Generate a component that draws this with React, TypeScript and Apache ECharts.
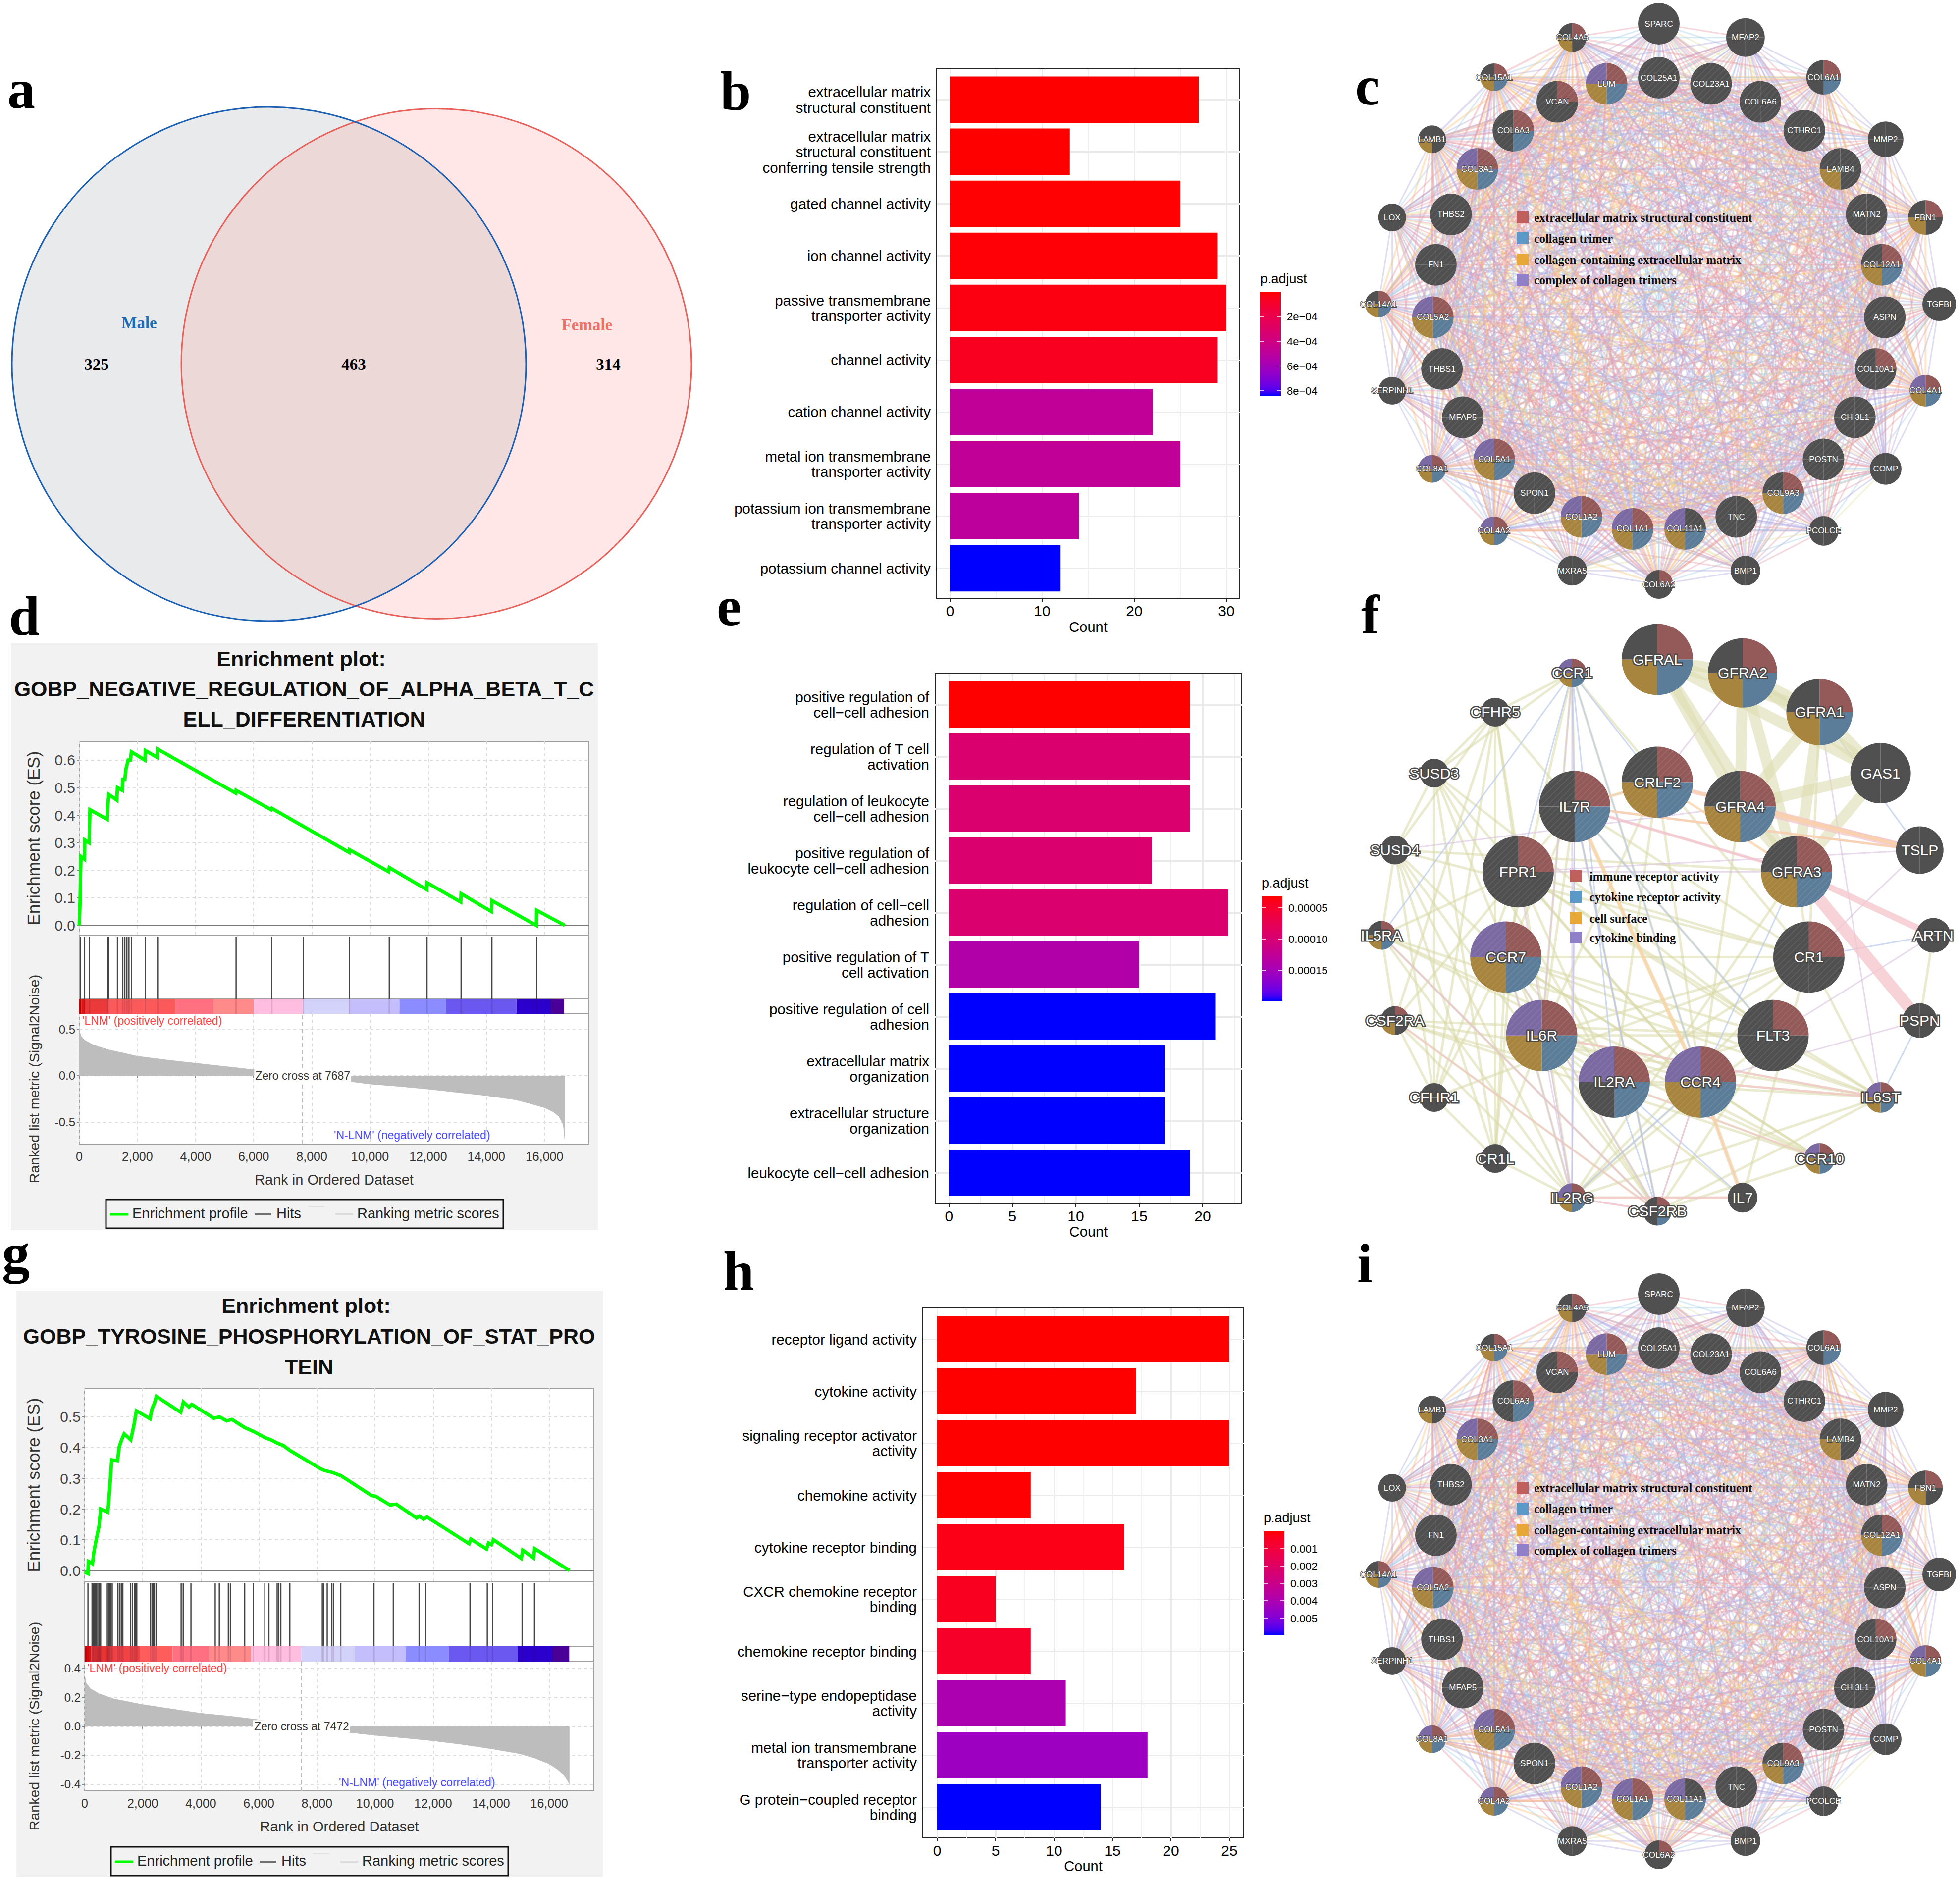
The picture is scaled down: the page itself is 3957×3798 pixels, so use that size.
import React, { useEffect, useRef } from "react";
import * as echarts from "echarts";

const SANS = '"Liberation Sans"';
const SERIF = '"Liberation Serif"';

// ---------- data ----------
const vennCounts = ["325", "463", "314"];
const vennNames = ["Male", "Female"];

const bCats = ["extracellular matrix\nstructural constituent", "extracellular matrix\nstructural constituent\nconferring tensile strength", "gated channel activity", "ion channel activity", "passive transmembrane\ntransporter activity", "channel activity", "cation channel activity", "metal ion transmembrane\ntransporter activity", "potassium ion transmembrane\ntransporter activity", "potassium channel activity"];
const bCounts = [27, 13, 25, 29, 30, 29, 22, 25, 14, 12];
const bPadj = [4e-6, 4e-6, 8e-6, 1.2e-5, 2.9e-5, 6.3e-5, 4.74e-4, 4.74e-4, 4.91e-4, 8.44e-4];

const eCats = ["positive regulation of\ncell−cell adhesion", "regulation of T cell\nactivation", "regulation of leukocyte\ncell−cell adhesion", "positive regulation of\nleukocyte cell−cell adhesion", "regulation of cell−cell\nadhesion", "positive regulation of T\ncell activation", "positive regulation of cell\nadhesion", "extracellular matrix\norganization", "extracellular structure\norganization", "leukocyte cell−cell adhesion"];
const eCounts = [19, 19, 19, 16, 22, 15, 21, 17, 17, 19];
const ePadj = [1.75e-5, 8.1e-5, 8.1e-5, 8.1e-5, 8.1e-5, 1.25e-4, 1.85e-4, 1.85e-4, 1.85e-4, 1.85e-4];

const hCats = ["receptor ligand activity", "cytokine activity", "signaling receptor activator\nactivity", "chemokine activity", "cytokine receptor binding", "CXCR chemokine receptor\nbinding", "chemokine receptor binding", "serine−type endopeptidase\nactivity", "metal ion transmembrane\ntransporter activity", "G protein−coupled receptor\nbinding"];
const hCounts = [25, 17, 25, 8, 16, 5, 8, 11, 18, 14];
const hPadj = [7e-6, 7e-6, 1e-5, 3e-5, 2.5e-4, 4.2e-4, 6e-4, 4e-3, 4.4e-3, 5.94e-3];

const dEs = [[0, 0], [30, 0.09], [42, 0.17], [60, 0.25], [184, 0.24], [190, 0.31], [340, 0.3], [353, 0.36], [370, 0.42], [960, 0.385], [975, 0.43], [1017, 0.475], [1290, 0.455], [1313, 0.5], [1480, 0.49], [1497, 0.53], [1567, 0.53], [1600, 0.565], [1680, 0.6], [1760, 0.6], [1793, 0.63], [2260, 0.6], [2274, 0.635], [2680, 0.61], [2697, 0.64], [5380, 0.48], [5394, 0.49], [6600, 0.42], [6623, 0.425], [9280, 0.265], [9292, 0.275], [10640, 0.195], [10662, 0.21], [11950, 0.13], [11960, 0.155], [13120, 0.085], [13133, 0.115], [14180, 0.05], [14192, 0.09], [15720, 0], [15731, 0.055], [16700, 0]];
const dHits = [42, 184, 353, 975, 1017, 1313, 1497, 1567, 1638, 1709, 1793, 2274, 2697, 5394, 6623, 7710, 9292, 10662, 11960, 13133, 14192, 15731];
const dMetric = [[0, 0.5], [50, 0.43], [200, 0.38], [500, 0.33], [1000, 0.28], [2000, 0.21], [3000, 0.17], [4000, 0.135], [5000, 0.1], [6000, 0.065], [7000, 0.025], [7687, 0], [9000, -0.05], [10000, -0.09], [11000, -0.115], [12000, -0.145], [13000, -0.18], [14000, -0.215], [15000, -0.26], [15500, -0.3], [16000, -0.345], [16300, -0.39], [16500, -0.44], [16650, -0.53], [16700, -0.68]];
const dBandEdges = [0, 71, 198, 1017, 3318, 4617, 6001, 7696, 9277, 11014, 12623, 15038, 16224, 16676];
const dBandColors = ["#cc0000", "#e01515", "#ec3a3a", "#fc5a5a", "#ff7080", "#ff8a8a", "#ffbde0", "#d2d2fa", "#c4bffc", "#8a8cff", "#6a58f0", "#2c00cc", "#4a0098"];

const gEs = [[0, -0.005], [113, -0.01], [125, 0.03], [270, 0.022], [310, 0.055], [370, 0.087], [440, 0.12], [495, 0.145], [551, 0.2], [790, 0.19], [820, 0.215], [862, 0.27], [930, 0.36], [1130, 0.358], [1190, 0.403], [1270, 0.425], [1360, 0.445], [1583, 0.425], [1640, 0.448], [1710, 0.48], [1780, 0.52], [2250, 0.494], [2318, 0.526], [2403, 0.545], [2470, 0.567], [3310, 0.515], [3400, 0.549], [3590, 0.532], [3690, 0.541], [4440, 0.496], [4650, 0.5], [4890, 0.487], [5070, 0.492], [5500, 0.466], [5850, 0.451], [6205, 0.433], [6420, 0.425], [6630, 0.415], [6840, 0.407], [7067, 0.391], [8110, 0.332], [8250, 0.326], [8540, 0.319], [8820, 0.309], [9880, 0.244], [10020, 0.242], [10520, 0.213], [10730, 0.216], [11430, 0.171], [11530, 0.177], [11670, 0.167], [11790, 0.174], [13240, 0.087], [13300, 0.102], [13840, 0.07], [13910, 0.089], [14010, 0.084], [14080, 0.1], [15040, 0.039], [15090, 0.066], [15460, 0.041], [15500, 0.071], [16700, 0]];
const gHits = [113, 254, 297, 325, 367, 410, 452, 495, 523, 551, 777, 820, 862, 905, 947, 1145, 1201, 1258, 1314, 1583, 1640, 1710, 1753, 1795, 2261, 2318, 2360, 2403, 2459, 3321, 3392, 3661, 4495, 4636, 4947, 5018, 5512, 5809, 6205, 6346, 6629, 6685, 6756, 7067, 8184, 8226, 8353, 8509, 8565, 8820, 9964, 10629, 11519, 11745, 13272, 13866, 14049, 15067, 15491];
const gMetric = [[0, 0.35], [50, 0.3], [200, 0.26], [500, 0.225], [1000, 0.19], [2000, 0.15], [3000, 0.12], [4000, 0.09], [5000, 0.07], [6000, 0.045], [7000, 0.015], [7472, 0], [9000, -0.04], [10000, -0.062], [11000, -0.08], [12000, -0.1], [13000, -0.125], [14000, -0.155], [15000, -0.19], [15500, -0.22], [16000, -0.26], [16300, -0.3], [16500, -0.335], [16650, -0.38], [16700, -0.405]];
const gBandEdges = [0, 85, 226, 876, 1894, 3025, 4297, 5738, 7463, 9314, 11053, 12537, 14925, 16127, 16692];
const gBandColors = ["#cc0000", "#dd1111", "#e63333", "#f04444", "#ff5c5c", "#ff7080", "#ff8a8a", "#ffbde0", "#d2d2fa", "#c4bffc", "#8a8cff", "#6a58f0", "#2c00cc", "#4a0098"];

// network c / i : gene names and function flags
const cOuter = ["SPARC", "MFAP2", "COL6A1", "MMP2", "FBN1", "TGFBI", "COL4A1", "COMP", "PCOLCE", "BMP1", "COL6A2", "MXRA5", "COL4A2", "COL8A1", "SERPINH1", "COL14A1", "LOX", "LAMB1", "COL15A1", "COL4A5"];
const cOuterFlags = ["", "", "RB", "", "RG", "", "RBGP", "", "", "", "R", "", "RBGP", "RBGP", "", "RBG", "", "G", "RBG", "RG"];
const cOuterSizes = [42, 39, 35, 36, 35, 34, 32, 32, 30, 30, 29, 30, 29, 28, 28, 27, 28, 28, 28, 29];
const cInner = ["COL25A1", "COL23A1", "COL6A6", "CTHRC1", "LAMB4", "MATN2", "COL12A1", "ASPN", "COL10A1", "CHI3L1", "POSTN", "COL9A3", "TNC", "COL11A1", "COL1A1", "COL1A2", "SPON1", "COL5A1", "MFAP5", "THBS1", "COL5A2", "FN1", "THBS2", "COL3A1", "COL6A3", "VCAN", "LUM"];
const cInnerFlags = ["", "", "", "", "G", "", "RBG", "", "R", "", "", "RBG", "", "BGP", "RBGP", "RBGP", "", "RBGP", "", "", "RBGP", "", "", "RBGP", "RB", "R", "RBGP"];
const cLegend = ["extracellular matrix structural constituent", "collagen trimer", "collagen-containing extracellular matrix", "complex of collagen trimers"];

// network f
const fOuter = ["GFRAL", "GFRA2", "GFRA1", "GAS1", "TSLP", "ARTN", "PSPN", "IL6ST", "CCR10", "IL7", "CSF2RB", "IL2RG", "CR1L", "CFHR1", "CSF2RA", "IL5RA", "SUSD4", "SUSD3", "CFHR5", "CCR1"];
const fOuterFlags = ["RBG", "RBG", "RBG", "", "", "", "", "RBGP", "RBGP", "", "RB", "RBGP", "", "", "RG", "RBG", "", "", "", "RBGP"];
const fOuterSizes = [72, 70, 67, 61, 48, 35, 35, 31, 31, 30, 29, 29, 29, 29, 29, 29, 29, 29, 29, 29];
const fInner = ["CRLF2", "GFRA4", "GFRA3", "CR1", "FLT3", "CCR4", "IL2RA", "IL6R", "CCR7", "FPR1", "IL7R"];
const fInnerFlags = ["RBG", "RBG", "RBG", "R", "R", "RBGP", "RBP", "RBGP", "RBGP", "R", "RB"];
const fLegend = ["immune receptor activity", "cytokine receptor activity", "cell surface", "cytokine binding"];
const fThickOlive = "GFRAL-GFRA2 GFRA2-GFRA1 GFRAL-GFRA1 GFRAL-GFRA4 GFRAL-GFRA3 GFRAL-GAS1 GFRA2-GFRA4 GFRA2-GFRA3 GFRA2-GAS1 GFRA1-GFRA4 GFRA1-GFRA3 GFRA1-GAS1 GFRA4-GAS1 GFRA3-GAS1 GFRA4-GFRA3".split(" ");
const fThinOlive = "CFHR5-SUSD3 CFHR5-SUSD4 CFHR5-CR1L CFHR5-CFHR1 CFHR5-CSF2RA CFHR5-FPR1 CFHR5-IL7R CFHR5-IL2RG SUSD3-SUSD4 SUSD3-CFHR1 SUSD3-IL2RA SUSD3-CCR4 SUSD3-FLT3 SUSD3-IL6R SUSD3-CR1L SUSD4-IL5RA SUSD4-CR1L SUSD4-CR1 SUSD4-CCR7 SUSD4-CFHR1 SUSD4-CSF2RB SUSD4-IL2RG IL5RA-CSF2RA IL5RA-CSF2RB IL5RA-IL2RG IL5RA-CCR4 IL5RA-IL6ST IL5RA-CCR10 CSF2RA-CFHR1 CSF2RA-CSF2RB CSF2RA-IL2RG CSF2RA-IL6ST CSF2RA-IL7R CSF2RA-FLT3 CSF2RA-CCR10 CSF2RA-IL2RA CFHR1-CR1L CFHR1-CR1 CFHR1-CCR7 CFHR1-FPR1 CR1L-IL2RG CR1L-CCR7 CR1L-FPR1 CR1L-IL6R IL2RG-CCR4 IL2RG-IL6ST IL2RG-IL7 IL2RG-CCR7 IL2RG-CR1 CSF2RB-IL6ST CSF2RB-IL7R CSF2RB-CCR10 CSF2RB-IL6R CSF2RB-FLT3 CSF2RB-CCR7 IL6ST-IL6R IL6ST-CCR7 IL6ST-CCR4 IL6ST-IL2RA IL6ST-FLT3 IL6ST-CR1 IL6ST-FPR1 CCR10-CCR7 CCR10-IL6R CCR10-CCR4 CCR10-IL2RA IL7-CR1 IL7-IL6R CCR1-CFHR5 CCR1-IL7R CCR1-IL6R CCR1-CCR4 CCR1-CR1 CCR1-CCR7 CCR1-SUSD3 CCR4-IL7R CCR4-FPR1 CCR4-CCR7 CCR4-IL6R CCR4-IL2RA IL7R-IL6R IL7R-FLT3 IL7R-CR1 CRLF2-IL2RA CRLF2-CCR4 CRLF2-IL6R FPR1-CR1 FPR1-IL2RA FPR1-FLT3 CR1-CCR7 CR1-IL6R CR1-IL2RA FLT3-CCR7 FLT3-IL6R FLT3-IL2RA FLT3-IL2RG CCR7-IL2RA CCR7-IL7R IL6R-IL2RA GFRA4-CCR4 GFRA3-CR1 GFRA3-IL2RG GFRA1-CR1 ARTN-PSPN SUSD4-GFRA3 IL5RA-FPR1".split(" ");
const fPink = "GFRA3-PSPN:24 GFRA3-ARTN:13 GFRA4-TSLP:13 CRLF2-TSLP:9 IL7R-GFRA3:6 IL7R-TSLP:5 CCR4-IL6ST:4 IL2RG-IL7:5 IL2RG-CSF2RB:4 CSF2RA-CSF2RB:3 IL5RA-CSF2RB:3 IL6R-IL6ST:4 IL2RA-CCR10:3 CCR4-CSF2RB:3".split(" ");
const fPeach = "IL7R-CRLF2:6 CRLF2-TSLP:5 IL7R-TSLP:4 IL7R-CCR4:8 CCR4-IL7:8 GFRA4-TSLP:5 CRLF2-GFRA3:5".split(" ");
const fBlue = "CCR1-IL5RA CCR1-FPR1 CCR1-CRLF2 CCR1-IL2RA CCR1-IL7R CCR1-CCR4 IL7R-FLT3 PSPN-IL6ST ARTN-CR1 IL2RA-IL7 CCR4-CSF2RB CCR4-IL2RG CCR4-IL7 IL2RA-CSF2RB IL7R-IL2RG IL7R-CSF2RB IL5RA-CSF2RB CRLF2-IL7R GFRA3-CCR4 GFRA1-TSLP".split(" ");
const fLilac = "CCR1-IL6R CCR1-IL2RG GFRA2-CRLF2 FPR1-GFRA3 TSLP-FPR1 SUSD4-GFRA4 IL7R-IL2RG FPR1-IL2RG IL6R-IL2RG CCR7-IL2RG CCR7-CSF2RB PSPN-CCR4 FLT3-ARTN GFRA3-IL7R IL2RG-CSF2RB IL7R-CSF2RB TSLP-CR1 GFRA1-IL6ST".split(" ");

// ---------- colour helpers (ggplot low=red, high=blue in Lab) ----------
const lab2hex = (L: number, a: number, b: number) => {
  const fy = (L + 16) / 116, fx = a / 500 + fy, fz = fy - b / 200;
  const g = (t: number) => (t > 6 / 29 ? t * t * t : 3 * (6 / 29) * (6 / 29) * (t - 4 / 29));
  const X = 0.95047 * g(fx), Y = g(fy), Z = 1.08883 * g(fz);
  const lin = [3.2406 * X - 1.5372 * Y - 0.4986 * Z, -0.9689 * X + 1.8758 * Y + 0.0415 * Z, 0.0557 * X - 0.204 * Y + 1.057 * Z];
  return "#" + lin.map((v) => {
    const c = v <= 0.0031308 ? 12.92 * v : 1.055 * Math.pow(Math.max(v, 0), 1 / 2.4) - 0.055;
    return Math.round(Math.min(1, Math.max(0, c)) * 255).toString(16).padStart(2, "0");
  }).join("");
};
const redBlue = (t: number) => lab2hex(53.24 + (32.3 - 53.24) * t, 80.09 + (79.19 - 80.09) * t, 67.2 + (-107.86 - 67.2) * t);

const NODE = { R: "#945a5a", B: "#5b7d99", G: "#a8853f", P: "#7a69a3", D: "#505050" };
const LEG = ["#c0605c", "#5b9ac8", "#e8a838", "#9080c8"];
const EDGE = { pink: "#eaa0aa", lav: "#b4aee2", peach: "#f9c680", blue: "#a8cfe8", olive: "#e2e2a6" };

// ---------- option builder ----------
const grids: any[] = [], xAxes: any[] = [], yAxes: any[] = [], series: any[] = [], graphics: any[] = [];

const addGrid = (l: number, t: number, r: number, b: number, extra: any = {}) => {
  grids.push({ left: l, top: t, width: r - l, height: b - t, containLabel: false, ...extra });
  return grids.length - 1;
};
const txt = (text: string, x: number, y: number, font: string, fill: string, align = "left", extra: any = {}) =>
  graphics.push({ type: "text", z: 50, x, y, style: { text, font, fill, textAlign: align, textVerticalAlign: "middle" }, ...extra });

const panelLetter = (t: string, x: number, baseline: number) =>
  graphics.push({ type: "text", z: 60, x, y: baseline - 102, style: { text: t, font: `bold 112px ${SERIF}`, fill: "#000", textAlign: "left", textVerticalAlign: "top" } });

// --- GO bar panels
function barPanel(cfg: any) {
  const { cats, counts, padj, left, right, top, bottom, min, max, barTop, barBottom, majors, minors, pLo, pHi, cb, cbTicks, nameGap } = cfg;
  const gA = addGrid(left, top, right, bottom, { show: true, borderColor: "#222", borderWidth: 2, backgroundColor: "#fff", z: 0 });
  xAxes.push({
    type: "value", gridIndex: gA, min, max, name: "Count", nameLocation: "middle", nameGap,
    nameTextStyle: { fontSize: 29, fontFamily: SANS, color: "#000" },
    axisLine: { show: false },
    axisTick: { show: true, customValues: majors, length: 7, lineStyle: { color: "#222", width: 2 } },
    axisLabel: { customValues: majors, fontSize: 30, fontFamily: SANS, color: "#000", margin: 10, formatter: (v: number) => String(v) },
    splitLine: { show: true, lineStyle: { color: "#ebebeb", width: 3 } },
  });
  yAxes.push({ type: "value", gridIndex: gA, min: 0, max: 1, show: false });
  series.push({
    type: "line", xAxisIndex: xAxes.length - 1, yAxisIndex: yAxes.length - 1, data: [], silent: true, z: 1,
    markLine: { silent: true, symbol: "none", z: 1, label: { show: false }, lineStyle: { color: "#f0f0f0", width: 2, type: "solid" }, data: minors.map((v: number) => ({ xAxis: v })) },
  });
  const gB = addGrid(left, barTop, right, barBottom, { show: false });
  xAxes.push({ type: "value", gridIndex: gB, min, max, show: false, splitLine: { show: false } });
  yAxes.push({
    type: "category", gridIndex: gB, data: cats, inverse: true,
    axisLine: { show: false },
    axisTick: { show: true, length: 7, alignWithLabel: true, lineStyle: { color: "#222", width: 2 } },
    axisLabel: { interval: 0, fontSize: 29.5, lineHeight: 31.5, fontFamily: SANS, color: "#000", margin: 12, align: "right" },
    splitLine: { show: false },
  });
  const t = (p: number) => (p - pLo) / (pHi - pLo);
  series.push({
    type: "bar", xAxisIndex: xAxes.length - 1, yAxisIndex: yAxes.length - 1, barWidth: 94, z: 3, silent: true,
    data: counts.map((c: number, i: number) => ({ value: c, itemStyle: { color: redBlue(t(padj[i])) } })),
    markLine: { silent: true, symbol: "none", z: 1, label: { show: false }, lineStyle: { color: "#ebebeb", width: 3, type: "solid" }, data: cats.map((_: string, i: number) => ({ yAxis: i })) },
  });
  // colour bar
  const stops = [];
  for (let i = 0; i <= 20; i++) stops.push({ offset: i / 20, color: redBlue(i / 20) });
  graphics.push({ type: "rect", z: 40, shape: { x: cb.x, y: cb.y0, width: 42, height: cb.y1 - cb.y0 }, style: { fill: { type: "linear", x: 0, y: 0, x2: 0, y2: 1, colorStops: stops } } });
  txt("p.adjust", cb.x, cb.y0 - 27, `27px ${SANS}`, "#000");
  cbTicks.forEach((tk: any) => {
    graphics.push({ type: "line", z: 41, shape: { x1: cb.x, y1: tk.y, x2: cb.x + 8, y2: tk.y }, style: { stroke: "#fff", lineWidth: 1.5 } });
    graphics.push({ type: "line", z: 41, shape: { x1: cb.x + 34, y1: tk.y, x2: cb.x + 42, y2: tk.y }, style: { stroke: "#fff", lineWidth: 1.5 } });
    txt(tk.label, cb.x + 54, tk.y, `22px ${SANS}`, "#000");
  });
}

// --- GSEA panels
const fmtRank = (v: number) => v.toLocaleString("en-US");
function gseaPanel(cfg: any) {
  const { bg, title, titleY, titleX, left, right, y0, y1, y2, y3, y4, xMax, esMin, esMax, esTicks, mMin, mMax, mTicks, es, hits, metric, bandEdges, bandColors, zero, annot, legend } = cfg;
  graphics.push({ type: "rect", z: -10, shape: { x: bg[0], y: bg[1], width: bg[2] - bg[0], height: bg[3] - bg[1] }, style: { fill: "#f2f2f2" } });
  title.forEach((s: string, i: number) => txt(s, titleX[i], titleY[i], `bold 43px ${SANS}`, "#111", "center"));
  const grid = { show: true, borderColor: "#a0a0a0", borderWidth: 2, backgroundColor: "#fff" };
  const xTicks = [0, 2000, 4000, 6000, 8000, 10000, 12000, 14000, 16000];
  const dash = { show: true, lineStyle: { color: "#dcdcdc", width: 2, type: [6, 6] } };

  // enrichment score
  const g1 = addGrid(left, y0, right, y1, grid);
  xAxes.push({ type: "value", gridIndex: g1, min: 0, max: xMax, axisLine: { show: false }, axisLabel: { show: false }, axisTick: { show: false, customValues: xTicks }, splitLine: dash });
  yAxes.push({
    type: "value", gridIndex: g1, min: esMin, max: esMax, name: "Enrichment score (ES)", nameLocation: "middle", nameGap: left - 73 - bg[4] - 12,
    nameTextStyle: { fontSize: 35, fontFamily: SANS, color: "#333" }, axisLine: { show: false },
    axisTick: { show: true, customValues: esTicks, length: 5, lineStyle: { color: "#888", width: 2 } },
    axisLabel: { customValues: esTicks, fontSize: 30, fontFamily: SANS, color: "#444", margin: 8, formatter: (v: number) => v.toFixed(1) },
    splitLine: dash,
  });
  series.push({
    type: "line", xAxisIndex: xAxes.length - 1, yAxisIndex: yAxes.length - 1, data: es, symbol: "none", z: 4, silent: true,
    lineStyle: { color: "#00ff00", width: 7, join: "miter" },
    markLine: { silent: true, symbol: "none", z: 2, label: { show: false }, lineStyle: { color: "#777", width: 3, type: "solid" }, data: [{ yAxis: 0 }] },
  });

  // hits
  const g2 = addGrid(left, y1, right, y2, grid);
  xAxes.push({ type: "value", gridIndex: g2, min: 0, max: xMax, show: false, splitLine: { show: false } });
  yAxes.push({ type: "value", gridIndex: g2, min: 0, max: 1, show: false, splitLine: { show: false } });
  series.push({
    type: "custom", xAxisIndex: xAxes.length - 1, yAxisIndex: yAxes.length - 1, silent: true, z: 3, data: hits.map((h: number) => [h]),
    encode: { x: 0 },
    renderItem: (_: any, api: any) => {
      const a = api.coord([api.value(0), 0]), b = api.coord([api.value(0), 1]);
      return { type: "line", shape: { x1: a[0], y1: a[1], x2: b[0], y2: b[1] + 3 }, style: { stroke: "#444", lineWidth: 2.5 } };
    },
  });

  // colour band
  const g3 = addGrid(left, y2, right, y3, grid);
  xAxes.push({ type: "value", gridIndex: g3, min: 0, max: xMax, show: false, splitLine: { show: false } });
  yAxes.push({ type: "value", gridIndex: g3, min: 0, max: 1, show: false, splitLine: { show: false } });
  series.push({
    type: "custom", xAxisIndex: xAxes.length - 1, yAxisIndex: yAxes.length - 1, silent: true, z: 3,
    data: bandColors.map((_: string, i: number) => [bandEdges[i], bandEdges[i + 1], i]), encode: { x: [0, 1] },
    renderItem: (_: any, api: any) => {
      const a = api.coord([api.value(0), 1]), b = api.coord([api.value(1), 0]);
      return { type: "rect", shape: { x: a[0], y: a[1], width: b[0] - a[0], height: b[1] - a[1] }, style: { fill: bandColors[api.value(2)] } };
    },
  });
  series.push({
    type: "custom", xAxisIndex: xAxes.length - 1, yAxisIndex: yAxes.length - 1, silent: true, z: 4, data: hits.map((h: number) => [h]), encode: { x: 0 },
    renderItem: (_: any, api: any) => {
      const a = api.coord([api.value(0), 0]), b = api.coord([api.value(0), 1]);
      return { type: "line", shape: { x1: a[0], y1: a[1], x2: b[0], y2: b[1] }, style: { stroke: "rgba(60,0,40,0.14)", lineWidth: 3 } };
    },
  });

  // ranked metric
  const g4 = addGrid(left, y3, right, y4, grid);
  xAxes.push({
    type: "value", gridIndex: g4, min: 0, max: xMax, name: "Rank in Ordered Dataset", nameLocation: "middle", nameGap: 57,
    nameTextStyle: { fontSize: 29, fontFamily: SANS, color: "#333" }, axisLine: { show: false },
    axisTick: { show: true, customValues: xTicks, length: 5, lineStyle: { color: "#888", width: 2 } },
    axisLabel: { customValues: xTicks, fontSize: 25, fontFamily: SANS, color: "#333", margin: 12, formatter: fmtRank },
    splitLine: dash,
  });
  yAxes.push({
    type: "value", gridIndex: g4, min: mMin, max: mMax, name: "Ranked list metric (Signal2Noise)", nameLocation: "middle", nameGap: left - 73 - bg[4] - 10,
    nameTextStyle: { fontSize: 28.5, fontFamily: SANS, color: "#333" }, axisLine: { show: false },
    axisTick: { show: true, customValues: mTicks, length: 5, lineStyle: { color: "#888", width: 2 } },
    axisLabel: { customValues: mTicks, fontSize: 24, fontFamily: SANS, color: "#333", margin: 8, formatter: (v: number) => v.toFixed(1) },
    splitLine: dash,
  });
  series.push({
    type: "line", xAxisIndex: xAxes.length - 1, yAxisIndex: yAxes.length - 1, data: metric, symbol: "none", z: 3, silent: true,
    lineStyle: { color: "#bdbdbd", width: 1 }, areaStyle: { color: "#bdbdbd", opacity: 1 },
    markLine: { silent: true, symbol: "none", z: 2, label: { show: false }, lineStyle: { color: "#bbb", width: 2, type: [8, 6] }, data: [{ xAxis: zero }] },
    markPoint: {
      silent: true, symbol: "circle", symbolSize: 0, z: 6,
      label: { show: true, position: "inside", formatter: `Zero cross at ${zero}`, fontSize: 23, fontFamily: SANS, color: "#333", backgroundColor: "#fff", padding: [1, 2] },
      data: [{ coord: [zero, 0] }],
    },
  });
  txt("'LNM' (positively correlated)", annot.lx, annot.ly, `23px ${SANS}`, "#ff4444");
  txt("'N-LNM' (negatively correlated)", annot.nx, annot.ny, `23px ${SANS}`, "#4a4aff");

  // legend box
  const { x, y } = legend;
  graphics.push({ type: "rect", z: 45, shape: { x, y, width: 802, height: 58 }, style: { fill: "#f2f2f2", stroke: "#111", lineWidth: 3 } });
  const seg = (x1: number, x2: number, yy: number, c: string, w: number) =>
    graphics.push({ type: "line", z: 46, shape: { x1: x + x1, y1: y + yy, x2: x + x2, y2: y + yy }, style: { stroke: c, lineWidth: w } });
  seg(8, 45, 30, "#00ff00", 5); seg(300, 333, 30, "#707070", 4); seg(408, 441, 14, "#e0e0e0", 2); seg(463, 499, 30, "#dcdcdc", 4);
  txt("Enrichment profile", x + 53, y + 28, `29px ${SANS}`, "#222");
  txt("Hits", x + 344, y + 28, `29px ${SANS}`, "#222");
  txt("Ranking metric scores", x + 507, y + 28, `29px ${SANS}`, "#222");
}

// --- network panels
const ringPos = (n: number, i: number, R: number) => {
  const a = (i / n) * Math.PI * 2;
  return [R * Math.sin(a), -R * Math.cos(a)];
};
function networkPanel(cfg: any) {
  const { cx, cy, nodes, edges, fontSize, border, legend, legendPos, legendFont } = cfg;
  const ext = 600;
  const g = addGrid(cx - ext, cy - ext, cx + ext, cy + ext, { show: false });
  xAxes.push({ type: "value", gridIndex: g, min: -ext, max: ext, show: false, splitLine: { show: false } });
  yAxes.push({ type: "value", gridIndex: g, min: -ext, max: ext, inverse: true, show: false, splitLine: { show: false } });
  const xi = xAxes.length - 1, yi = yAxes.length - 1;
  series.push({
    type: "custom", xAxisIndex: xi, yAxisIndex: yi, silent: true, z: 2, clip: false,
    data: edges.map((e: any) => [e.a[0], e.a[1], e.b[0], e.b[1]]),
    encode: { x: [0, 2], y: [1, 3] },
    renderItem: (p: any, api: any) => {
      const e = edges[p.dataIndex];
      const a = api.coord([api.value(0), api.value(1)]), b = api.coord([api.value(2), api.value(3)]);
      return { type: "line", shape: { x1: a[0], y1: a[1], x2: b[0], y2: b[1] }, style: { stroke: e.c, lineWidth: e.w, opacity: e.o } };
    },
  });
  series.push({
    type: "custom", xAxisIndex: xi, yAxisIndex: yi, silent: true, z: 3, clip: false,
    data: nodes.map((n: any) => [n.x, n.y]),
    encode: { x: 0, y: 1 },
    renderItem: (p: any, api: any) => {
      const n = nodes[p.dataIndex];
      const c = api.coord([api.value(0), api.value(1)]);
      const ch: any[] = [];
      const Q: [string, number][] = [["R", -0.5], ["B", 0], ["G", 0.5], ["P", 1]];
      Q.forEach(([k, s]) => ch.push({
        type: "sector",
        shape: { cx: c[0], cy: c[1], r: n.r, r0: 0, startAngle: s * Math.PI, endAngle: (s + 0.5) * Math.PI, clockwise: true },
        style: { fill: n.flags.includes(k) ? (NODE as any)[k] : NODE.D },
      }));
      if (n.hatch) {
        const s = 9;
        for (let d = -n.r + s / 2; d < n.r; d += s) {
          const h = Math.sqrt(n.r * n.r - d * d) - 1;
          const mx = c[0] + d * Math.SQRT1_2, my = c[1] + d * Math.SQRT1_2;
          ch.push({ type: "line", shape: { x1: mx - h * Math.SQRT1_2, y1: my + h * Math.SQRT1_2, x2: mx + h * Math.SQRT1_2, y2: my - h * Math.SQRT1_2 }, style: { stroke: "rgba(255,255,255,0.1)", lineWidth: 1.5 } });
        }
      }
      ch.push({ type: "text", style: { text: n.name, x: c[0], y: c[1], fill: "#fff", stroke: "#4a4a4a", lineWidth: border, font: `${fontSize}px ${SANS}`, textAlign: "center", textVerticalAlign: "middle" } });
      return { type: "group", children: ch };
    },
  });
  legend.forEach((s: string, i: number) => {
    const yy = legendPos.ys[i];
    graphics.push({ type: "rect", z: 40, shape: { x: legendPos.x, y: yy - 12, width: 24, height: 24 }, style: { fill: LEG[i] } });
    txt(s, legendPos.tx, yy, `bold ${legendFont}px ${SERIF}`, "#111");
  });
}

const buildCNet = () => {
  const nodes: any[] = [];
  cOuter.forEach((name, i) => { const [x, y] = ringPos(cOuter.length, i, 566); nodes.push({ name, x, y, r: cOuterSizes[i], flags: cOuterFlags[i], hatch: false }); });
  cInner.forEach((name, i) => { const [x, y] = ringPos(cInner.length, i, 457); nodes.push({ name, x, y, r: 42, flags: cInnerFlags[i], hatch: true }); });
  const edges: any[] = [];
  for (let i = 0; i < nodes.length; i++) for (let j = i + 1; j < nodes.length; j++) {
    const ai = nodes[i].flags.length > 0, aj = nodes[j].flags.length > 0;
    let c;
    if (ai && aj) c = [EDGE.peach, EDGE.pink, EDGE.peach, EDGE.lav][(i + j) % 4];
    else if (ai || aj) c = [EDGE.pink, EDGE.lav, EDGE.blue, EDGE.pink][(i * 3 + j) % 4];
    else c = [EDGE.lav, EDGE.pink, EDGE.lav, EDGE.olive][(i + j) % 4];
    edges.push({ a: [nodes[i].x, nodes[i].y], b: [nodes[j].x, nodes[j].y], c, w: ai && aj ? 4 : 3, o: 0.42 });
  }
  return { nodes, edges };
};
const buildFNet = () => {
  const nodes: any[] = [];
  fOuter.forEach((name, i) => { const [x, y] = ringPos(fOuter.length, i, 557); nodes.push({ name, x, y, r: fOuterSizes[i], flags: fOuterFlags[i], hatch: false }); });
  fInner.forEach((name, i) => { const [x, y] = ringPos(fInner.length, i, 309); nodes.push({ name, x, y, r: 72, flags: fInnerFlags[i], hatch: true }); });
  const at = (n: string) => nodes.find((d) => d.name === n);
  const edges: any[] = [];
  const add = (s: string, c: string, w: number, o: number) => {
    const [pair, wd] = s.split(":");
    const [a, b] = pair.split("-");
    const A = at(a), B = at(b);
    if (A && B) edges.push({ a: [A.x, A.y], b: [B.x, B.y], c, w: wd ? Number(wd) : w, o });
  };
  fThinOlive.forEach((s) => add(s, "#d8d8a8", 5, 0.55));
  fLilac.forEach((s) => add(s, "#d8bfe0", 3, 0.6));
  fBlue.forEach((s) => add(s, "#b9c9ec", 3, 0.7));
  fThickOlive.forEach((s) => add(s, "#dcdcb0", 22, 0.6));
  fPink.forEach((s) => add(s, "#f4c4ca", 5, 0.75));
  fPeach.forEach((s) => add(s, "#f8d3a6", 5, 0.75));
  return { nodes, edges };
};

// --- assemble
const venn = () => {
  graphics.push({ type: "circle", z: 1, shape: { cx: 543, cy: 735, r: 519 }, style: { fill: "#e8eaec" } });
  graphics.push({ type: "circle", z: 2, shape: { cx: 881, cy: 734.5, r: 515 }, style: { fill: "rgba(250,170,165,0.28)" } });
  graphics.push({ type: "circle", z: 3, shape: { cx: 881, cy: 734.5, r: 515 }, style: { fill: "none", stroke: "#e8605a", lineWidth: 3 } });
  graphics.push({ type: "circle", z: 3, shape: { cx: 543, cy: 735, r: 519 }, style: { fill: "none", stroke: "#1a5fb4", lineWidth: 3 } });
  txt(vennNames[0], 281, 652, `bold 33px ${SERIF}`, "#1f6bb8", "center");
  txt(vennNames[1], 1185, 656, `bold 33px ${SERIF}`, "#ee6f66", "center");
  txt(vennCounts[0], 195, 736, `bold 33px ${SERIF}`, "#000", "center");
  txt(vennCounts[1], 714, 736, `bold 33px ${SERIF}`, "#000", "center");
  txt(vennCounts[2], 1228, 736, `bold 33px ${SERIF}`, "#000", "center");
};

function buildOption() {
  venn();
  barPanel({
    cats: bCats, counts: bCounts, padj: bPadj, left: 1891, right: 2503, top: 139, bottom: 1208, barTop: 149, barBottom: 1199.7,
    min: -1.45, max: 31.45, majors: [0, 10, 20, 30], minors: [5, 15, 25], pLo: 4e-6, pHi: 8.44e-4, nameGap: 43,
    cb: { x: 2544, y0: 590, y1: 800 },
    cbTicks: [{ y: 639, label: "2e−04" }, { y: 689, label: "4e−04" }, { y: 739, label: "6e−04" }, { y: 789, label: "8e−04" }],
  });
  barPanel({
    cats: eCats, counts: eCounts, padj: ePadj, left: 1888, right: 2507, top: 1360, bottom: 2430, barTop: 1370.5, barBottom: 2420.5,
    min: -1.09, max: 23.09, majors: [0, 5, 10, 15, 20], minors: [2.5, 7.5, 12.5, 17.5, 22.5], pLo: 1.75e-5, pHi: 1.85e-4, nameGap: 42,
    cb: { x: 2547, y0: 1810, y1: 2021 },
    cbTicks: [{ y: 1833, label: "0.00005" }, { y: 1896, label: "0.00010" }, { y: 1959, label: "0.00015" }],
  });
  barPanel({
    cats: hCats, counts: hCounts, padj: hPadj, left: 1863, right: 2511, top: 2641, bottom: 3711, barTop: 2651.5, barBottom: 3701.5,
    min: -1.23, max: 26.23, majors: [0, 5, 10, 15, 20, 25], minors: [2.5, 7.5, 12.5, 17.5, 22.5], pLo: 7e-6, pHi: 5.94e-3, nameGap: 42,
    cb: { x: 2551, y0: 3092, y1: 3301 },
    cbTicks: [{ y: 3127, label: "0.001" }, { y: 3162, label: "0.002" }, { y: 3197, label: "0.003" }, { y: 3232, label: "0.004" }, { y: 3268, label: "0.005" }],
  });
  gseaPanel({
    bg: [22, 1298, 1207, 2484, 0], title: ["Enrichment plot:", "GOBP_NEGATIVE_REGULATION_OF_ALPHA_BETA_T_C", "ELL_DIFFERENTIATION"],
    titleX: [608, 614, 614], titleY: [1330, 1391, 1452],
    left: 160, right: 1189, y0: 1497, y1: 1888, y2: 2017, y3: 2047, y4: 2310, xMax: 17530,
    esMin: -0.035, esMax: 0.668, esTicks: [0, 0.1, 0.2, 0.3, 0.4, 0.5, 0.6],
    mMin: -0.738, mMax: 0.668, mTicks: [-0.5, 0, 0.5], es: dEs, hits: dHits, metric: dMetric,
    bandEdges: dBandEdges, bandColors: dBandColors, zero: 7687,
    annot: { lx: 166, ly: 2061, nx: 674, ny: 2292 }, legend: { x: 214, y: 2422 },
  });
  gseaPanel({
    bg: [33, 2606, 1217, 3790, 0], title: ["Enrichment plot:", "GOBP_TYROSINE_PHOSPHORYLATION_OF_STAT_PRO", "TEIN"],
    titleX: [618, 624, 624], titleY: [2636, 2698, 2760],
    left: 171, right: 1199, y0: 2803, y1: 3194, y2: 3324, y3: 3355, y4: 3616, xMax: 17540,
    esMin: -0.037, esMax: 0.5935, esTicks: [0, 0.1, 0.2, 0.3, 0.4, 0.5],
    mMin: -0.447, mMax: 0.448, mTicks: [-0.4, -0.2, 0, 0.2, 0.4], es: gEs, hits: gHits, metric: gMetric,
    bandEdges: gBandEdges, bandColors: gBandColors, zero: 7472,
    annot: { lx: 176, ly: 3368, nx: 684, ny: 3599 }, legend: { x: 224, y: 3729 },
  });
  const cn = buildCNet();
  networkPanel({ cx: 3349, cy: 614, nodes: cn.nodes, edges: cn.edges, fontSize: 17, border: 2, legend: cLegend, legendFont: 24.4, legendPos: { x: 3062, tx: 3097, ys: [439, 481, 524, 565] } });
  const fn = buildFNet();
  networkPanel({ cx: 3346, cy: 1888.5, nodes: fn.nodes, edges: fn.edges, fontSize: 30, border: 5, legend: fLegend, legendFont: 24.4, legendPos: { x: 3169, tx: 3209, ys: [1769, 1811, 1854, 1893] } });
  networkPanel({ cx: 3349, cy: 614 + 2565, nodes: cn.nodes, edges: cn.edges, fontSize: 17, border: 2, legend: cLegend, legendFont: 24.4, legendPos: { x: 3062, tx: 3097, ys: [439, 481, 524, 565].map((v) => v + 2565) } });

  panelLetter("a", 15, 226); panelLetter("b", 1454, 230); panelLetter("c", 2736, 219);
  panelLetter("d", 18, 1290); panelLetter("e", 1447, 1270); panelLetter("f", 2748, 1287);
  panelLetter("g", 4, 2576); panelLetter("h", 1460, 2612); panelLetter("i", 2740, 2597);

  return { animation: false, backgroundColor: "#fff", grid: grids, xAxis: xAxes, yAxis: yAxes, series, graphic: { elements: graphics }, tooltip: { show: false } };
}

export default function App() {
  const ref = useRef<HTMLDivElement>(null);
  useEffect(() => {
    document.body.style.margin = "0";
    const chart = echarts.init(ref.current!, undefined, { renderer: "svg" });
    grids.length = xAxes.length = yAxes.length = series.length = graphics.length = 0;
    chart.setOption(buildOption() as any);
    return () => chart.dispose();
  }, []);
  return <div ref={ref} style={{ width: 3957, height: 3798 }} />;
}
